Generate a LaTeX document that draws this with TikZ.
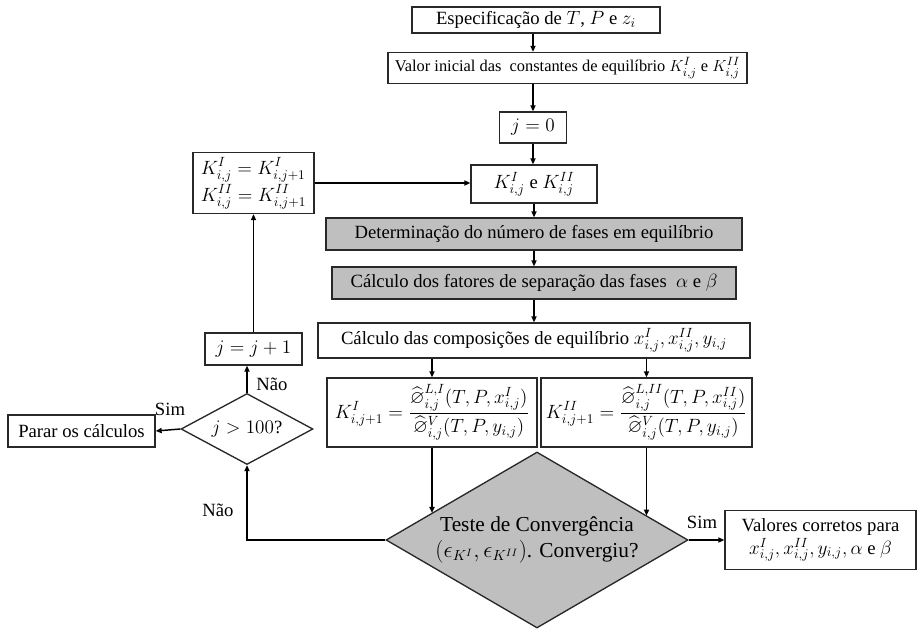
\documentclass[tikz,border=0pt]{standalone}
\usepackage{amsmath,amssymb}
\usepackage{fontspec}
\setmainfont{Liberation Serif}
\usetikzlibrary{shapes.geometric,arrows.meta,calc}

\definecolor{edge}{RGB}{40,40,40}
\definecolor{shade}{RGB}{191,191,191}

\tikzset{
  txt/.style={font=\fontsize{14}{17}\selectfont},
  box/.style={txt, draw=edge, line width=1pt, fill=white, inner sep=0pt, align=center},
  grey/.style={box, fill=shade},
  wh/.style 2 args={minimum width=#1*0.75pt, minimum height=#2*0.75pt},
  decision/.style={diamond, draw=edge, line width=1pt, inner sep=0pt, align=center},
  arr/.style={draw=black, line width=1.1pt, -{Triangle[length=4.5pt,width=3.8pt]}},
  lbl/.style={txt, inner sep=0pt},
}

\begin{document}
\begin{tikzpicture}[x=0.75pt, y=-0.75pt]
\useasboundingbox (0,0) rectangle (917,628);

% main column
\node[box, wh={248}{26}] (b1) at (536,20) {Especificação de $T$, $P$ e $z_i$};
\node[box, wh={359}{31}, font=\fontsize{12.3}{15}\selectfont] (b2) at (567.5,68)
  {Valor inicial das~ constantes de equilíbrio $K^{I}_{i,j}$ e $K^{II}_{i,j}$};
\node[box, wh={67}{31}] (j0) at (533,127.5) {$j = 0$};
\node[box, wh={126}{38}] (kk) at (534,184) {$K^{I}_{i,j}$ e $K^{II}_{i,j}$};
\node[grey, wh={416}{32}] (det) at (534,234) {Determinação do número de fases em equilíbrio};
\node[grey, wh={404}{32}] (fat) at (534,283) {Cálculo dos fatores de separação das fases~ $\alpha$ e $\beta$};
\node[box, wh={432}{35}] (comp) at (534,340.5) {Cálculo das composições de equilíbrio $x^{I}_{i,j}, x^{II}_{i,j}, y_{i,j}$};
\node[box, wh={210}{69}] (kI) at (432,412.5)
  {$\displaystyle K^{I}_{i,j+1} = \frac{\widehat{\varnothing}^{L,I}_{i,j}(T,P,x^{I}_{i,j})}{\widehat{\varnothing}^{V}_{i,j}(T,P,y_{i,j})}$};
\node[box, wh={211}{69}] (kII) at (646.5,412.5)
  {$\displaystyle K^{II}_{i,j+1} = \frac{\widehat{\varnothing}^{L,II}_{i,j}(T,P,x^{II}_{i,j})}{\widehat{\varnothing}^{V}_{i,j}(T,P,y_{i,j})}$};
\node[decision, fill=shade, aspect=1.716, minimum width=302*0.75pt, minimum height=176*0.75pt,
      font=\fontsize{16}{19}\selectfont] (conv) at (537,540)
  {Teste de Convergência\\$(\epsilon_{K^{I}}, \epsilon_{K^{II}})$. Convergiu?};
\node[box, wh={191}{59}] (val) at (820.5,540)
  {Valores corretos para\\$x^{I}_{i,j}, x^{II}_{i,j}, y_{i,j}, \alpha$ e $\beta$};

% iteration loop
\node[box, wh={121}{61}] (upd) at (253.5,183)
  {$\begin{aligned}[t] &K^{I}_{i,j} = K^{I}_{i,j+1}\\[-2pt] &K^{II}_{i,j} = K^{II}_{i,j+1}\end{aligned}$};
\node[box, wh={97}{32}] (jinc) at (253.5,349) {$j = j + 1$};
\node[decision, txt, fill=white, aspect=1.86, minimum width=132*0.75pt, minimum height=71*0.75pt] (jd) at (247,429) {$j > 100$?};
\node[box, wh={147}{32}] (stop) at (81.5,431) {Parar os cálculos};

% branch labels
\node[lbl] (sim1) at (170,409) {Sim};
\node[lbl] (nao1) at (272,384) {Não};
\node[lbl] (nao2) at (218,510) {Não};
\node[lbl] (sim2) at (702,522) {Sim};

% points where the vertical feeds meet the convergence test
\coordinate (cI) at ($(conv.west)!0.305!(conv.north)$);
\coordinate (cII) at ($(conv.east)!0.275!(conv.north)$);

% connectors
\draw[arr] (b1.south -| j0) -- (b2.north -| j0);
\draw[arr] (b2.south -| j0) -- (j0.north);
\draw[arr] (j0.south) -- (kk.north -| j0);
\draw[arr] (upd.east) -- (kk.west |- upd.east);
\draw[arr] (kk.south) -- (det.north);
\draw[arr] (det.south) -- (fat.north);
\draw[arr] (fat.south) -- (comp.north);
\draw[arr] (comp.south -| kI) -- (kI.north);
\draw[arr] (comp.south -| kII) -- (kII.north);
\draw[arr] (kI.south) -- (kI.south |- cI);
\draw[arr] (kII.south) -- (kII.south |- cII);
\draw[arr] (conv.east) -- (val.west);
\draw[arr] (conv.west) -| (jd.south);
\draw[arr] (jd.west) -- (stop.east);
\draw[arr] (jd.north) -- (jd.north |- jinc.south);
\draw[arr] (jinc.north) -- (upd.south);
\end{tikzpicture}
\end{document}
